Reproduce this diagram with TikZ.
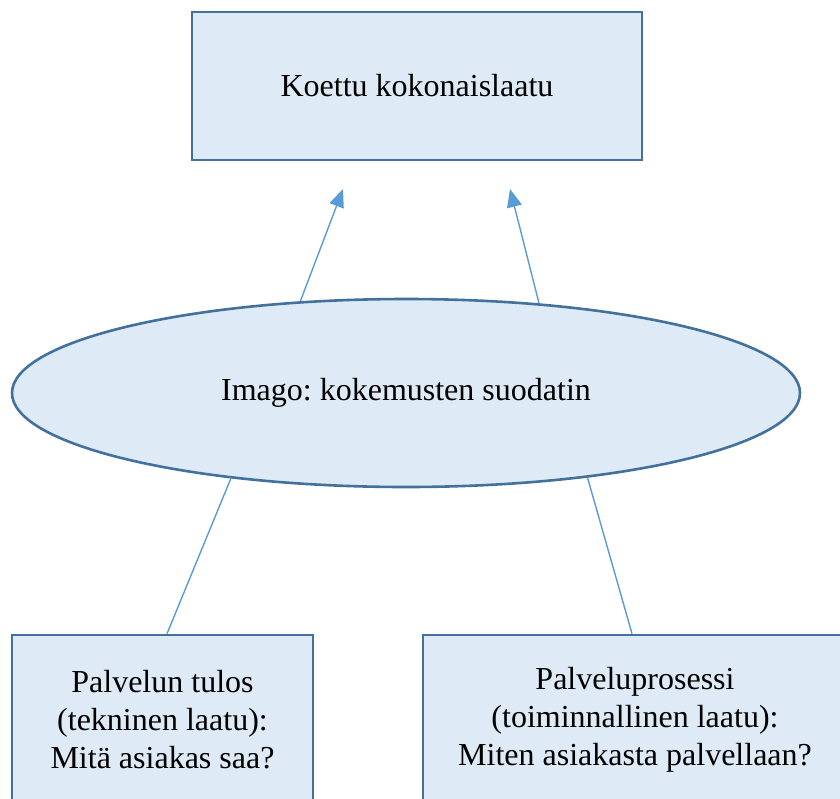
\documentclass[tikz,border=0pt]{standalone}
\usepackage{fontspec}
\setmainfont{Liberation Serif}
\usetikzlibrary{shapes.geometric,arrows.meta}
\definecolor{boxfill}{HTML}{DEEAF6}
\definecolor{boxedge}{HTML}{41719C}
\definecolor{conn}{HTML}{5B9BD5}
\frenchspacing
\tikzset{
  shapebox/.style={draw=boxedge, fill=boxfill, line width=2.6pt, inner sep=0pt, align=center,
    font=\fontsize{32}{38}\selectfont},
  rectbox/.style={shapebox, rectangle},
  ovalbox/.style={shapebox, ellipse},
  connline/.style={draw=conn, line width=1.4pt},
  connarrow/.style={connline, -{Triangle[length=18pt,width=15pt]}}
}
\begin{document}
\begin{tikzpicture}[x=1pt,y=-1pt]
\useasboundingbox (0,0) rectangle (840,798);
\node[rectbox, minimum width=450pt, minimum height=148pt] (top) at (417,86) {Koettu kokonaislaatu};
\node[ovalbox, minimum width=788pt, minimum height=188pt] (img) at (406,393) {Imago: kokemusten suodatin};
\node[rectbox, minimum width=301pt, minimum height=170pt] (lt) at (162.5,720)
  {Palvelun tulos\\(tekninen laatu):\\Mitä asiakas saa?};
\node[rectbox, minimum width=424pt, minimum height=170pt] (rt) at (635,720)
  {Palveluprosessi\\(toiminnallinen laatu):\\Miten asiakasta palvellaan?};
\coordinate (tipL) at (343,189);
\coordinate (tipR) at (510,189);
\draw[connarrow] (img.139.6) -- (tipL);
\draw[connarrow] (img.34.1) -- (tipR);
\draw[connline] ([xshift=4.5pt]lt.north) -- (img.206.2);
\draw[connline] ([xshift=-3pt]rt.north) -- (img.335.2);
\end{tikzpicture}
\end{document}
